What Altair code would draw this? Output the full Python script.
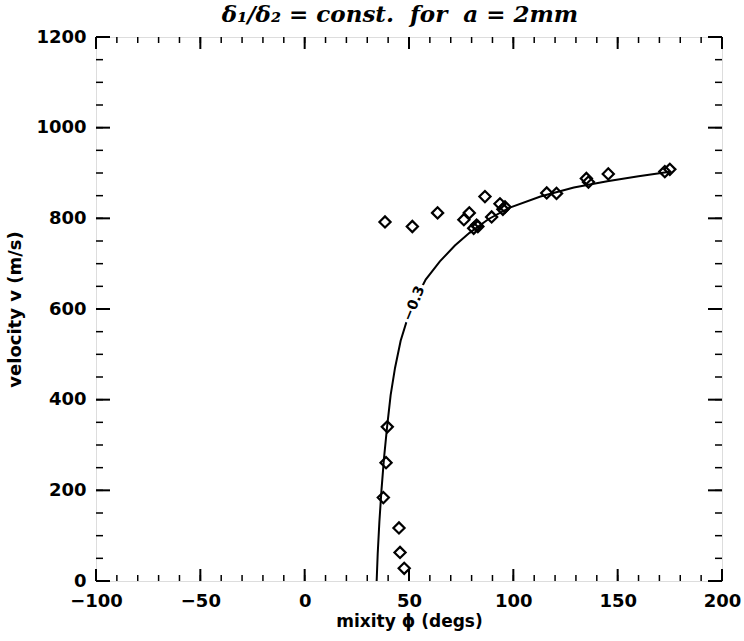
import altair as alt
import pandas as pd

# Measured points (mixity phi in degrees, velocity in m/s)
obs_phi = [39.6, 39.0, 37.7, 45.2, 45.7, 47.7,
           38.5, 51.6, 63.7, 86.4, 78.9, 76.3, 82.4, 81.0, 83.0,
           89.6, 93.6, 96.0, 95.0, 116.0, 120.7, 135.0, 136.0,
           145.5, 172.6, 175.0]
obs_v = [340, 261, 184, 117, 63, 28,
         792, 782, 812, 848, 812, 797, 785, 778, 782,
         803, 832, 825, 820, 856, 855, 888, 880,
         898, 903, 908]

# Fitted curve (label -0.3)
fit_phi = [34.5, 35.0, 35.8, 36.8, 38.0, 39.5, 41.2, 43.3, 46.0, 49.0, 53.0,
           58.0, 64.8, 72.0, 79.0, 88.0, 98.0, 113.0, 129.0, 145.0, 160.0, 175.0]
fit_v = [0, 60, 130, 200, 270, 340, 410, 470, 530, 575, 620,
         665, 705, 740, 768, 798, 823, 848, 868, 882, 893, 903]

label_phi = [52.5]
label_v = [612]
label_text = ["\u22120.3"]

x_major = [-100, -50, 0, 50, 100, 150, 200]
x_minor = list(range(-100, 201, 10))
y_major = [0, 200, 400, 600, 800, 1000, 1200]
y_minor = list(range(0, 1201, 50))

W, H = 626, 544

xs = alt.Scale(domain=[-100, 200], nice=False, zero=False)
ys = alt.Scale(domain=[0, 1200], nice=False, zero=False)

df_obs = pd.DataFrame({"phi": obs_phi, "v": obs_v})
df_fit = pd.DataFrame({"phi": fit_phi, "v": fit_v})
df_lab = pd.DataFrame({"phi": label_phi, "v": label_v, "t": label_text})
df_xmaj = pd.DataFrame({"t": x_major})
df_xmin = pd.DataFrame({"t": x_minor})
df_ymaj = pd.DataFrame({"t": y_major})
df_ymin = pd.DataFrame({"t": y_minor})

FONT = "DejaVu Sans"

x_axis = alt.Axis(title="mixity \u03d5 (degs)", values=x_major, format="d", ticks=False,
                  grid=False, domain=False, labelFont=FONT, labelFontSize=18,
                  labelFontWeight="bold", labelColor="black", labelPadding=11,
                  titleFont=FONT, titleFontSize=17, titleFontWeight="bold",
                  titleColor="black", titlePadding=3, labelFlush=False)
y_axis = alt.Axis(title="velocity v (m/s)", values=y_major, format="d", ticks=False,
                  grid=False, domain=False, labelFont=FONT, labelFontSize=18,
                  labelFontWeight="bold", labelColor="black", labelPadding=10,
                  titleFont=FONT, titleFontSize=18, titleFontWeight="bold",
                  titleColor="black", titlePadding=11, labelFlush=False)

curve = alt.Chart(df_fit).mark_line(color="black", strokeWidth=2).encode(
    x=alt.X("phi:Q", scale=xs, axis=x_axis),
    y=alt.Y("v:Q", scale=ys, axis=y_axis),
    order=alt.Order("v:Q"),
)

mask = alt.Chart(df_lab).mark_text(
    font=FONT, fontSize=14, fontWeight="bold", angle=292, color="white",
    stroke="white", strokeWidth=7,
).encode(x=alt.X("phi:Q", scale=xs), y=alt.Y("v:Q", scale=ys), text="t:N")

label = alt.Chart(df_lab).mark_text(
    font=FONT, fontSize=14, fontWeight="bold", angle=292, color="black",
).encode(x=alt.X("phi:Q", scale=xs), y=alt.Y("v:Q", scale=ys), text="t:N")

points = alt.Chart(df_obs).mark_point(
    shape="diamond", filled=False, color="black", strokeWidth=2.2, size=125, opacity=1,
).encode(x=alt.X("phi:Q", scale=xs), y=alt.Y("v:Q", scale=ys))


def xticks(df, length, sw):
    bottom = alt.Chart(df).mark_rule(color="black", strokeWidth=sw).encode(
        x=alt.X("t:Q", scale=xs), y=alt.value(H), y2=alt.value(H - length))
    top = alt.Chart(df).mark_rule(color="black", strokeWidth=sw).encode(
        x=alt.X("t:Q", scale=xs), y=alt.value(0), y2=alt.value(length))
    return [bottom, top]


def yticks(df, length, sw):
    left = alt.Chart(df).mark_rule(color="black", strokeWidth=sw).encode(
        y=alt.Y("t:Q", scale=ys), x=alt.value(0), x2=alt.value(length))
    right = alt.Chart(df).mark_rule(color="black", strokeWidth=sw).encode(
        y=alt.Y("t:Q", scale=ys), x=alt.value(W), x2=alt.value(W - length))
    return [left, right]


tick_layers = (xticks(df_xmin, 6, 1.5) + xticks(df_xmaj, 12, 2)
               + yticks(df_ymin, 7, 1.5) + yticks(df_ymaj, 14, 2))

NB = "\u00a0"
title_text = ("\u03b4\u2081/\u03b4\u2082" + NB + "=" + NB + "const." + NB + NB + "for"
              + NB + NB + "a" + NB + "=" + NB + "2mm")

chart = alt.layer(
    curve, mask, label, points, *tick_layers
).properties(
    width=W, height=H,
    title=alt.Title(title_text, font="DejaVu Serif",
                    fontSize=23, fontStyle="italic", fontWeight="bold", color="black",
                    anchor="middle", offset=1, dx=-9),
    padding={"left": 96, "top": 37, "right": 22, "bottom": 60},
    autosize=alt.AutoSizeParams(type="none"),
).configure_view(stroke="black", strokeWidth=2).configure(background="white")

chart.save("out.html", embed_options={"renderer": "svg", "actions": False})
